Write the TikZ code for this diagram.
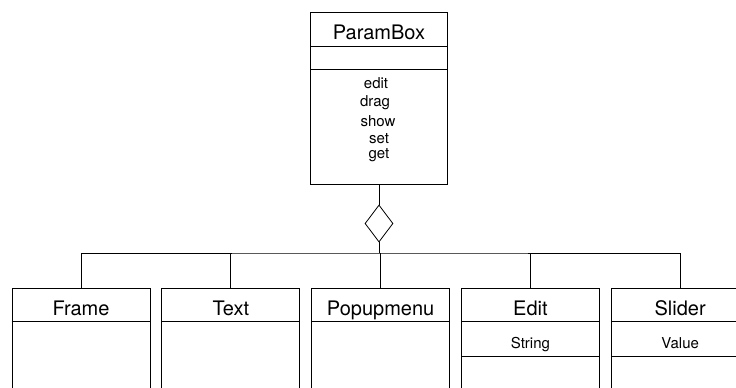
\documentclass[tikz,border=0pt]{standalone}
\usepackage{fontspec}
\setmainfont{TeX Gyre Heros}
\usetikzlibrary{positioning,shapes.geometric}

\begin{document}
\begin{tikzpicture}[x=1pt,y=-1pt,line width=0.8pt,
  cls/.style={draw,rectangle,inner sep=0pt,minimum width=138pt,minimum height=132pt},
  head/.style={font=\fontsize{20}{22}\selectfont,inner sep=0pt,anchor=base},
  attr/.style={font=\fontsize{15}{17}\selectfont,inner sep=0pt,anchor=base},
  agg/.style={draw,diamond,inner sep=0pt,minimum width=28pt,minimum height=37pt}]
\useasboundingbox (0,0) rectangle (736,388);
\clip (0,0) rectangle (736,388);
% --- container class with its operations ---
\node[cls,minimum width=137pt,minimum height=172pt] (pb) at (379,98) {};
\draw ([yshift=-35pt]pb.north west) -- ([yshift=-35pt]pb.north east);
\draw ([yshift=-58pt]pb.north west) -- ([yshift=-58pt]pb.north east);
\node[head] (pbt) at ([yshift=-27.5pt]pb.north) {ParamBox};
\node[attr] (op1) at ([xshift=-3pt,yshift=-77pt]pb.north) {edit};
\node[attr] (op2) at ([xshift=-4pt,yshift=-95pt]pb.north) {drag};
\node[attr] (op3) at ([xshift=-1pt,yshift=-115pt]pb.north) {show};
\node[attr] (op4) at ([yshift=-132pt]pb.north) {set};
\node[attr] (op5) at ([yshift=-147pt]pb.north) {get};
\node[agg] (dia) at (379,223.5) {};
\draw (pb.south) -- (dia.north);
% --- the parts ---
\node[cls] (fr) at (81,354) {};
\node[cls,right=11pt of fr] (tx) {};
\node[cls,right=11pt of tx] (pm) {};
\node[cls,right=11pt of pm] (ed) {};
\node[cls,right=11pt of ed] (sl) {};
\foreach \b/\t in {fr/Frame,tx/Text,pm/Popupmenu,ed/Edit,sl/Slider}{
  \draw ([yshift=-34pt]\b.north west) -- ([yshift=-34pt]\b.north east);
  \node[head] (\b t) at ([yshift=-28pt]\b.north) {\t};
}
\draw ([yshift=-69pt]ed.north west) -- ([yshift=-69pt]ed.north east);
\draw ([yshift=-69pt]sl.north west) -- ([yshift=-69pt]sl.north east);
\node[attr] (eds) at ([yshift=-61pt]ed.north) {String};
\node[attr] (slv) at ([yshift=-61pt]sl.north) {Value};
% --- aggregation tree ---
\coordinate (bus) at (379,253);
\draw (dia.south) -- (bus);
\draw (fr.north) |- (bus) -| (sl.north);
\draw (tx.north) -- (tx.north |- bus);
\draw (pm.north) -- (pm.north |- bus);
\draw (ed.north) -- (ed.north |- bus);
\end{tikzpicture}
\end{document}
